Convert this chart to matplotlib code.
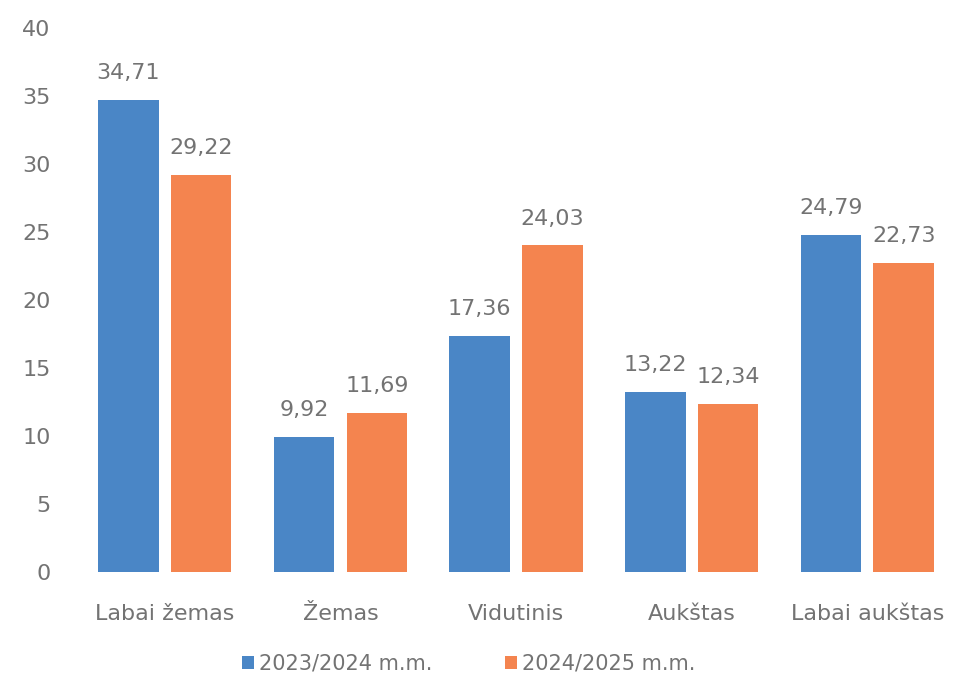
import matplotlib
matplotlib.use("Agg")
import matplotlib.pyplot as plt
import numpy as np

categories = ["Labai žemas", "Žemas", "Vidutinis", "Aukštas", "Labai aukštas"]
series_names = ["2023/2024 m.m.", "2024/2025 m.m."]
values_2324 = [34.71, 9.92, 17.36, 13.22, 24.79]
values_2425 = [29.22, 11.69, 24.03, 12.34, 22.73]
yticks = [0, 5, 10, 15, 20, 25, 30, 35, 40]

blue = "#4A86C6"
orange = "#F4844F"
gray = "#737373"
plt.rcParams['font.family'] = ['DejaVu Sans']

fig = plt.figure(figsize=(9.62, 6.88), dpi=100)
ax = fig.add_axes([0.080, 0.169, 0.913, 0.790])
x = np.arange(len(categories))
w = 0.345
off = 0.207
b1 = ax.bar(x - off, values_2324, w, color=blue, label=series_names[0])
b2 = ax.bar(x + off, values_2425, w, color=orange, label=series_names[1])

def fmt(v):
    return f"{v:.2f}".replace(".", ",")

for bars, vals in ((b1, values_2324), (b2, values_2425)):
    for r, v in zip(bars, vals):
        ax.annotate(fmt(v), (r.get_x() + r.get_width() / 2, v), xytext=(0, 12),
                    textcoords="offset points", ha="center", va="bottom",
                    fontsize=16, color=gray)

ax.set_ylim(0, 40)
ax.set_xlim(-0.5, 4.5)
ax.set_yticks(yticks)
ax.set_yticklabels([str(t) for t in yticks])
ax.set_xticks(x)
ax.set_xticklabels(categories)
ax.tick_params(axis="both", length=0, labelsize=16, labelcolor=gray)
ax.tick_params(axis="y", pad=19)
ax.tick_params(axis="x", pad=23)
for s in ax.spines.values():
    s.set_visible(False)

fig.legend(handles=[b1, b2], loc="center", bbox_to_anchor=(0.487, 0.035), ncol=2, frameon=False,
           fontsize=15, labelcolor=gray, handlelength=0.6, handleheight=0.6,
           handletextpad=0.2, columnspacing=3.5)

fig.savefig("out.png", dpi=100, facecolor="white")
